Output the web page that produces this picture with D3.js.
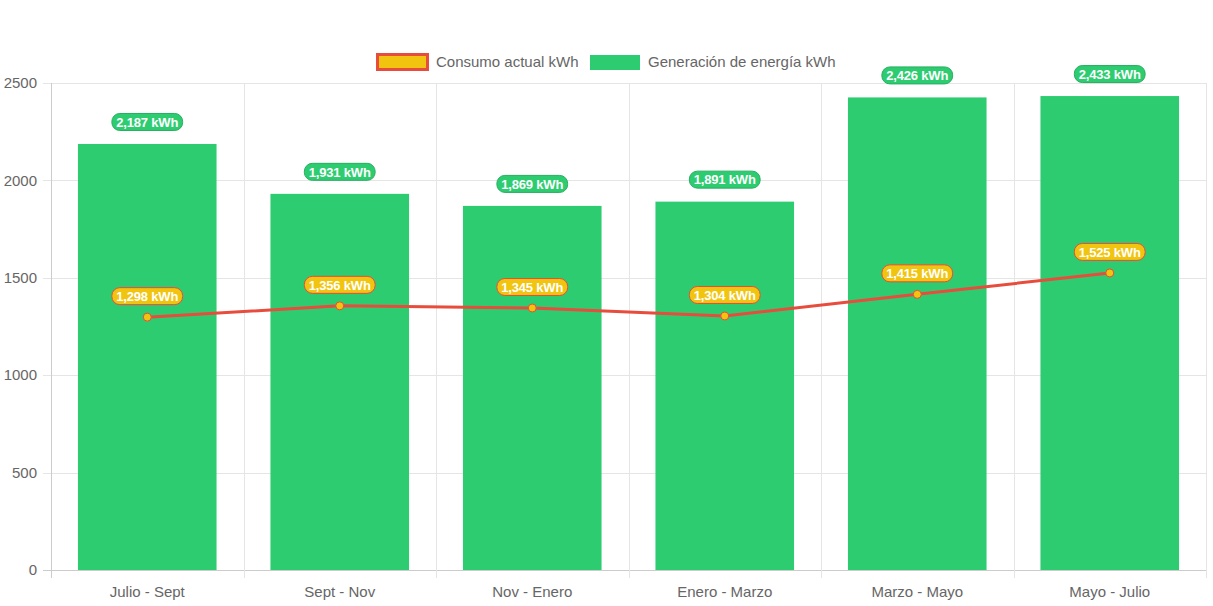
<!DOCTYPE html>
<html>
<head>
<meta charset="utf-8">
<script src="https://cdn.jsdelivr.net/npm/d3@7"></script>
<style>
  body { margin: 0; background: #fff; }
  svg { display: block; font-family: "Liberation Sans", Arial, sans-serif; }
</style>
</head>
<body>
<div id="chart"></div>
<script>
// Data
var periods = ["Julio - Sept", "Sept - Nov", "Nov - Enero", "Enero - Marzo", "Marzo - Mayo", "Mayo - Julio"];
var generacion = [2187, 1931, 1869, 1891, 2426, 2433];
var consumo = [1298, 1356, 1345, 1304, 1415, 1525];
var yTicks = [0, 500, 1000, 1500, 2000, 2500];

// Sizes
var width = 1213, height = 606;
var plotL = 51, plotR = 1206, plotT = 83, plotB = 570;

var svg = d3.select("#chart").append("svg")
    .attr("width", width)
    .attr("height", height);

var x = d3.scaleBand().domain(periods).range([plotL, plotR]);
var y = d3.scaleLinear().domain([0, 2500]).range([plotB, plotT]);
var fmt = d3.format(",");

// Grid
var grid = svg.append("g");
yTicks.forEach(function(t) {
    grid.append("line")
        .attr("x1", plotL - 8).attr("x2", plotR)
        .attr("y1", Math.round(y(t)) + 0.5).attr("y2", Math.round(y(t)) + 0.5)
        .attr("stroke", t === 0 ? "#ccc" : "#e5e5e5");
});
var bounds = periods.map(function(p) { return x(p); }).concat([plotR]);
bounds.forEach(function(b, i) {
    grid.append("line")
        .attr("x1", Math.round(b) + 0.5).attr("x2", Math.round(b) + 0.5)
        .attr("y1", plotT).attr("y2", plotB + 8)
        .attr("stroke", i === 0 ? "#ccc" : "#e5e5e5");
});

// Y axis labels
svg.append("g").selectAll("text").data(yTicks).enter().append("text")
    .attr("x", 37)
    .attr("y", function(d) { return y(d); })
    .attr("dy", "0.35em")
    .attr("text-anchor", "end")
    .attr("fill", "#666")
    .attr("font-size", 15)
    .text(function(d) { return d; });

// X axis labels
svg.append("g").selectAll("text").data(periods).enter().append("text")
    .attr("x", function(d) { return x(d) + x.bandwidth() / 2; })
    .attr("y", 592)
    .attr("dy", "0.35em")
    .attr("text-anchor", "middle")
    .attr("fill", "#666")
    .attr("font-size", 15)
    .text(function(d) { return d; });

// Bars
var barW = x.bandwidth() * 0.72;
svg.append("g").selectAll("rect").data(generacion).enter().append("rect")
    .attr("x", function(d, i) { return x(periods[i]) + (x.bandwidth() - barW) / 2; })
    .attr("y", function(d) { return y(d); })
    .attr("width", barW)
    .attr("height", function(d) { return plotB - y(d); })
    .attr("fill", "#2ecc71");

// Line
var cx = function(i) { return x(periods[i]) + x.bandwidth() / 2; };
var line = d3.line()
    .x(function(d, i) { return cx(i); })
    .y(function(d) { return y(d); });
svg.append("path")
    .datum(consumo)
    .attr("d", line)
    .attr("fill", "none")
    .attr("stroke", "#e74c3c")
    .attr("stroke-width", 3);

svg.append("g").selectAll("circle").data(consumo).enter().append("circle")
    .attr("cx", function(d, i) { return cx(i); })
    .attr("cy", function(d) { return y(d); })
    .attr("r", 4)
    .attr("fill", "#f1c40f")
    .attr("stroke", "#e74c3c")
    .attr("stroke-width", 1);

// Data labels
function pill(g, cxv, cyv, txt, bg, border) {
    var t = g.append("text")
        .attr("x", cxv).attr("y", cyv)
        .attr("dy", "0.36em")
        .attr("text-anchor", "middle")
        .attr("fill", "#fff")
        .attr("font-size", 13)
        .attr("font-weight", "bold")
        .attr("letter-spacing", -0.2)
        .text(txt);
    var w = t.node().getComputedTextLength() + 9;
    g.insert("rect", function() { return t.node(); })
        .attr("x", cxv - w / 2).attr("y", cyv - 8.5)
        .attr("width", w).attr("height", 17)
        .attr("rx", 8).attr("ry", 8)
        .attr("fill", bg)
        .attr("stroke", border)
        .attr("stroke-width", 1);
}
var labels = svg.append("g");
generacion.forEach(function(d, i) {
    pill(labels.append("g"), cx(i), y(d) - 22, fmt(d) + " kWh", "#2ecc71", "#27ae60");
});
consumo.forEach(function(d, i) {
    pill(labels.append("g"), cx(i), y(d) - 21, fmt(d) + " kWh", "#f1c40f", "#e74c3c");
});

// Legend
var legend = svg.append("g");
legend.append("rect")
    .attr("x", 377.5).attr("y", 54.5).attr("width", 50).attr("height", 15)
    .attr("fill", "#f1c40f").attr("stroke", "#e74c3c").attr("stroke-width", 3);
legend.append("text")
    .attr("x", 436).attr("y", 62).attr("dy", "0.35em")
    .attr("fill", "#666").attr("font-size", 15)
    .text("Consumo actual kWh");
legend.append("rect")
    .attr("x", 590).attr("y", 55).attr("width", 50).attr("height", 15)
    .attr("fill", "#2ecc71");
legend.append("text")
    .attr("x", 648).attr("y", 62).attr("dy", "0.35em")
    .attr("fill", "#666").attr("font-size", 15)
    .text("Generación de energía kWh");
</script>
</body>
</html>
